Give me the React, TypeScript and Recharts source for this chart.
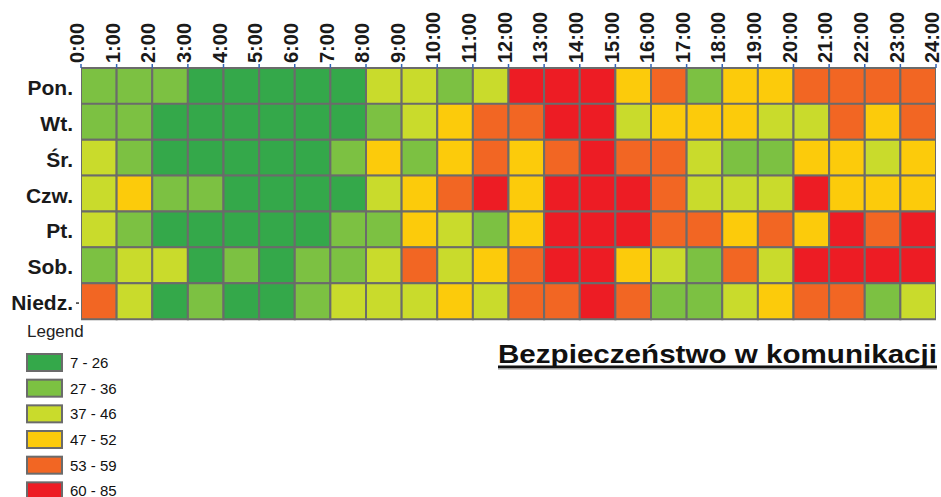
import React from 'react';
import { BarChart, Bar, XAxis, YAxis, Cell } from 'recharts';

const FONT = '"Liberation Sans", Arial, sans-serif';

const days = ['Pon.', 'Wt.', 'Śr.', 'Czw.', 'Pt.', 'Sob.', 'Niedz.'];
const hourTicks = [0, 1, 2, 3, 4, 5, 6, 7, 8, 9, 10, 11, 12, 13, 14, 15, 16, 17, 18, 19, 20, 21, 22, 23, 24];
const hourLabels = ['0:00', '1:00', '2:00', '3:00', '4:00', '5:00', '6:00', '7:00', '8:00', '9:00', '10:00', '11:00', '12:00',
  '13:00', '14:00', '15:00', '16:00', '17:00', '18:00', '19:00', '20:00', '21:00', '22:00', '23:00', '24:00'];

// estimated values per hour slot (representative of the legend bin)
const pon = [31, 31, 31, 20, 20, 20, 20, 20, 42, 42, 31, 42, 68, 68, 68, 50, 56, 31, 50, 50, 56, 56, 56, 56];
const wt = [31, 31, 20, 20, 20, 20, 20, 20, 31, 42, 50, 56, 56, 68, 68, 42, 50, 50, 50, 42, 42, 56, 50, 56];
const sr = [42, 31, 20, 20, 20, 20, 20, 31, 50, 31, 50, 56, 50, 56, 68, 56, 56, 42, 31, 31, 50, 50, 42, 50];
const czw = [42, 50, 31, 31, 20, 20, 20, 20, 42, 50, 56, 68, 50, 68, 68, 68, 56, 42, 42, 42, 68, 50, 50, 50];
const pt = [42, 31, 20, 20, 20, 20, 20, 31, 31, 50, 42, 31, 50, 68, 68, 68, 56, 56, 50, 56, 50, 68, 56, 68];
const sob = [31, 42, 42, 20, 31, 20, 31, 31, 42, 56, 42, 50, 56, 68, 68, 50, 42, 31, 56, 42, 68, 68, 68, 68];
const niedz = [56, 42, 20, 31, 20, 20, 31, 42, 42, 42, 50, 42, 56, 56, 68, 56, 31, 31, 42, 50, 56, 56, 31, 42];
const rows = [pon, wt, sr, czw, pt, sob, niedz];

const legendLabels = ['7 - 26', '27 - 36', '37 - 46', '47 - 52', '53 - 59', '60 - 85'];
const legendMax = [26, 36, 46, 52, 59, 85];
const legendColors = ['#34A84A', '#7CC142', '#C9DB2C', '#FCCB0B', '#F26623', '#ED1C24'];

const colorFor = (v: number) => {
  const i = legendMax.findIndex((m) => v <= m);
  return legendColors[i < 0 ? legendColors.length - 1 : i];
};

const hourIdx = hourTicks.slice(0, 24);

const data = days.map((d, r) => {
  const o: Record<string, any> = { day: d };
  rows[r].forEach((_, h) => {
    o['h' + h] = 1;
  });
  return o;
});

const XTick = (props: any) => {
  const { x, y, payload } = props;
  const idx = hourTicks.indexOf(payload.value);
  return (
    <text
      x={x}
      y={y}
      dy={3.2}
      transform={`rotate(-90, ${x}, ${y})`}
      textAnchor="start"
      fontFamily={FONT}
      fontWeight="bold"
      fontSize={20}
      fill="#1a1a1a"
    >
      {hourLabels[idx]}
    </text>
  );
};

const YTick = (props: any) => {
  const { x, y, payload, index } = props;
  return (
    <g>
      <text
        x={x}
        y={y}
        dy={9}
        textAnchor="end"
        fontFamily={FONT}
        fontWeight="bold"
        fontSize={21}
        fill="#1a1a1a"
      >
        {payload.value}
      </text>
      {index === days.length - 1 ? (
        <line x1={x + 3} x2={x + 6} y1={y + 2} y2={y + 2} stroke="#333" strokeWidth={1.5} />
      ) : null}
    </g>
  );
};

export default function App() {
  return (
    <div style={{ position: 'absolute', left: 0, top: 0, width: 941, height: 497, background: '#fff' }}>
      <BarChart
        width={941}
        height={497}
        data={data}
        layout="vertical"
        margin={{ top: 0, right: 5, bottom: 178, left: 0 }}
        barCategoryGap={0}
        barGap={0}
      >
        <XAxis
          type="number"
          orientation="top"
          domain={[0, 24]}
          ticks={hourTicks}
          interval={0}
          height={68}
          tickSize={4}
          tickMargin={1}
          axisLine={false}
          tickLine={{ stroke: '#3565b5', strokeWidth: 1.5 }}
          tick={<XTick />}
          allowDataOverflow
        />
        <YAxis
          type="category"
          dataKey="day"
          width={81}
          interval={0}
          axisLine={false}
          tickLine={false}
          tick={<YTick />}
        />
        {hourIdx.map((h) => (
          <Bar key={h} dataKey={'h' + h} stackId="grid" isAnimationActive={false}>
            {days.map((d, r) => (
              <Cell key={d} fill={colorFor(rows[r][h])} stroke="#6b6b6b" strokeWidth={2} />
            ))}
          </Bar>
        ))}
      </BarChart>
      <svg
        width={941}
        height={497}
        style={{ position: 'absolute', left: 0, top: 0, pointerEvents: 'none' }}
      >
        <text x={27} y={337} fontFamily={FONT} fontSize={17} fill="#222">
          Legend
        </text>
        {legendLabels.map((lab, i) => (
          <g key={lab}>
            <rect
              x={27}
              y={354 + i * 25.67}
              width={35}
              height={17}
              fill={legendColors[i]}
              stroke="#6b6b6b"
              strokeWidth={2}
            />
            <text x={70} y={368 + i * 25.67} fontFamily={FONT} fontSize={15} fill="#111">
              {lab}
            </text>
          </g>
        ))}
        <text
          x={498}
          y={363}
          fontFamily={FONT}
          fontWeight="bold"
          fontSize={25}
          fill="#111"
          textLength={439}
          lengthAdjust="spacingAndGlyphs"
        >
          Bezpieczeństwo w komunikacji
        </text>
        <rect x={498} y={365.5} width={439} height={2.5} fill="#111" />
        <rect x={498} y={368} width={439} height={1.5} fill="#999" />
      </svg>
    </div>
  );
}
